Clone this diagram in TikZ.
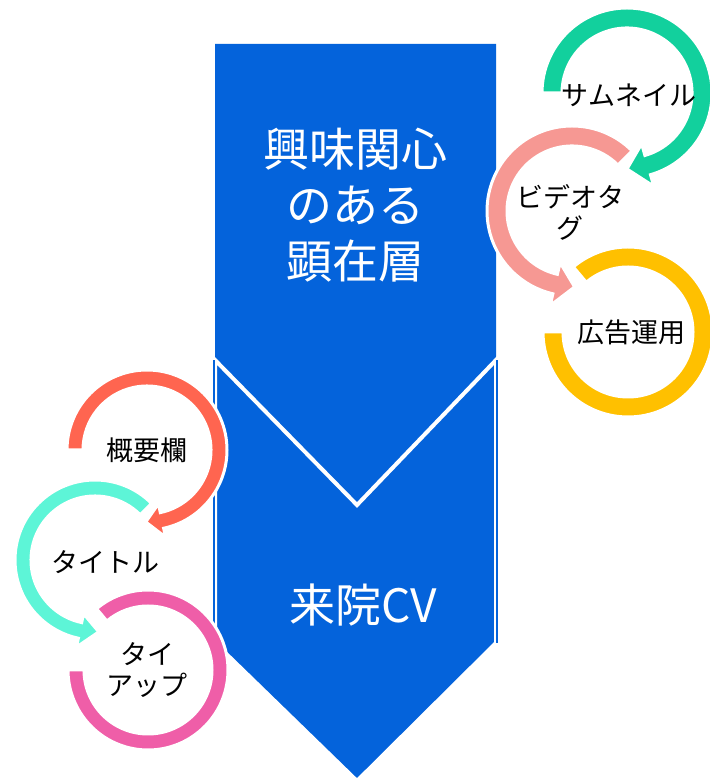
\documentclass[tikz,border=0pt]{standalone}
\usepackage{fontspec}
\newfontfamily\jpfont{Noto Sans CJK JP}
\usetikzlibrary{calc}
\definecolor{flowblue}{RGB}{4,99,219}
\definecolor{ringgreen}{RGB}{18,208,157}
\definecolor{ringsalmon}{RGB}{246,152,147}
\definecolor{ringyellow}{RGB}{255,192,0}
\definecolor{ringred}{RGB}{255,101,80}
\definecolor{ringaqua}{RGB}{93,245,215}
\definecolor{ringpink}{RGB}{239,94,168}
\tikzset{
  ringtext/.style={font=\jpfont\fontsize{27}{31}\selectfont, align=center, text=black, inner sep=0pt},
  flowtext/.style={font=\jpfont\fontsize{46}{56}\selectfont, align=center, text=white, inner sep=0pt},
  ring/.style={draw=white, line width=3pt}
}
\begin{document}
\begin{tikzpicture}[x=1pt,y=1pt]
\useasboundingbox (0,0) rectangle (709,781);
\fill [flowblue] (215,737) -- (496,737) -- (496,421) -- (357,276) -- (215,421) -- cycle;
\draw [fill = flowblue, draw = white, line width = 4pt] (215,421) -- (357,276) -- (496,421) -- (496,138) -- (357,0) -- (215,138) -- cycle;
\fill [flowblue] (213,421) rectangle (215,138);
\fill [flowblue] (496,421) rectangle (498,138);
\node[flowtext] (interest) at (355,576) {興味関心\\のある\\顕在層};
\node[flowtext] (visit) at (363,176) {来院CV};
\coordinate (thumbc) at (627,688);
\coordinate (tagc) at (572,570);
\coordinate (adsc) at (628,449);
\coordinate (summaryc) at (147,331);
\coordinate (titlec) at (95,221);
\coordinate (tieupc) at (148,111);
\draw [ring, fill = ringgreen] ($(thumbc)+(180:85)$) arc[start angle=180, end angle=-74, radius=85] -- ($(thumbc)+(-74:97)$) -- ($(thumbc)+(-90:76)$) -- ($(thumbc)+(-74:53)$) -- ($(thumbc)+(-74:65)$) arc[start angle=-74, end angle=180, radius=65] -- cycle;
\draw [ring, fill = ringsalmon] ($(tagc)+(45:85)$) arc[start angle=45, end angle=257, radius=85] -- ($(tagc)+(257:97)$) -- ($(tagc)+(272:76)$) -- ($(tagc)+(257:53)$) -- ($(tagc)+(257:65)$) arc[start angle=257, end angle=45, radius=65] -- cycle;
\draw [ring, fill = ringyellow] ($(adsc)+(130:85)$) arc[start angle=130, end angle=-180, radius=85] -- ($(adsc)+(-180:65)$) arc[start angle=-180, end angle=130, radius=65] -- cycle;
\draw [ring, fill = ringred] ($(summaryc)+(180:80)$) arc[start angle=180, end angle=-78, radius=80] -- ($(summaryc)+(-78:89)$) -- ($(summaryc)+(-91:72)$) -- ($(summaryc)+(-78:55)$) -- ($(summaryc)+(-78:64)$) arc[start angle=-78, end angle=180, radius=64] -- cycle;
\draw [ring, fill = ringaqua] ($(titlec)+(45:80)$) arc[start angle=45, end angle=258, radius=80] -- ($(titlec)+(258:89)$) -- ($(titlec)+(273:72)$) -- ($(titlec)+(258:55)$) -- ($(titlec)+(258:64)$) arc[start angle=258, end angle=45, radius=64] -- cycle;
\draw [ring, fill = ringpink] ($(tieupc)+(130:80)$) arc[start angle=130, end angle=-180, radius=80] -- ($(tieupc)+(-180:64)$) arc[start angle=-180, end angle=130, radius=64] -- cycle;
\node[ringtext] (thumb) at (629,686) {サムネイル};
\node[ringtext] (tag) at (570,569) {ビデオタ\\グ};
\node[ringtext] (ads) at (631,449) {広告運用};
\node[ringtext] (summary) at (147,331) {概要欄};
\node[ringtext] (title) at (105,219) {タイトル};
\node[ringtext] (tieup) at (147,111) {タイ\\アップ};
\end{tikzpicture}
\end{document}
